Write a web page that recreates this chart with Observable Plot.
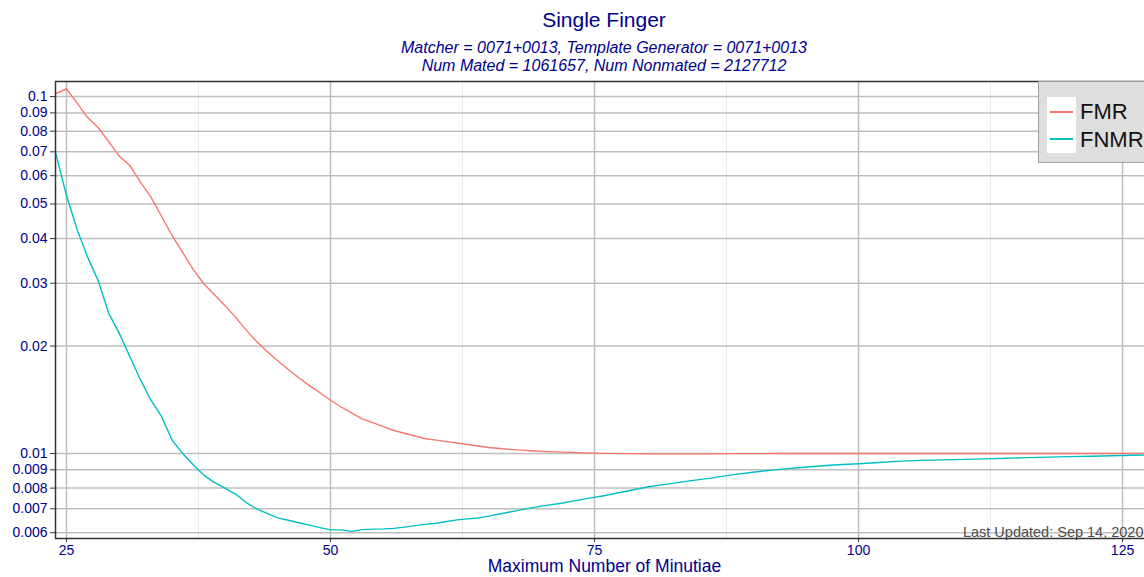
<!DOCTYPE html>
<html><head><meta charset="utf-8">
<script src="https://cdn.jsdelivr.net/npm/d3@7"></script>
<script src="https://cdn.jsdelivr.net/npm/@observablehq/plot@0.6"></script>
<style>
body{margin:0;background:#fff;}
#wrap{position:relative;width:1144px;height:577px;overflow:hidden;background:#fff;font-family:"Liberation Sans",Arial,sans-serif;}
#chart{position:absolute;left:0;top:0;}
.t{position:absolute;left:604px;transform:translateX(-50%);white-space:nowrap;color:#00008B;text-align:center;}
#title{top:9px;font-size:21px;line-height:21px;}
.sub{font-size:16px;line-height:18px;font-style:italic;}
#sub1{top:39px;}
#sub2{top:56.5px;}
#legend{position:absolute;left:1038px;top:81px;width:130px;height:82px;background:#dedede;border:1px solid #a0a0a0;box-sizing:border-box;}
#keybox{position:absolute;left:1047px;top:97px;width:29px;height:56px;background:#fff;}
.key{position:absolute;left:1050px;width:23px;height:1.5px;}
.lab{position:absolute;left:1080px;font-size:22px;line-height:22px;color:#111;white-space:nowrap;}
</style></head>
<body>
<div id="wrap">
  <div id="chart"></div>
  <div class="t" id="title">Single Finger</div>
  <div class="t sub" id="sub1">Matcher = 0071+0013, Template Generator = 0071+0013</div>
  <div class="t sub" id="sub2">Num Mated = 1061657, Num Nonmated = 2127712</div>
  <div id="legend"></div>
  <div id="keybox"></div>
  <div id="legendItems"></div>
</div>
<script>
// ---- data ----
const minutiae = [24,25,26,27,28,29,30,31,32,33,34,35,36,37,38,39,40,41,42,43,44,45,46,47,48,49,50,
  51,52,53,54,55,56,57,58,59,60,61,62,63,64,65,66,67,68,69,70,
  72,74,76,78,80,82,84,86,88,90,92,94,96,98,100,102,104,106,108,110,112,114,116,118,120,122,124,126,127];
const fmr = [0.102,0.105,0.096,0.0873,0.0819,0.0748,0.0681,0.0641,0.0576,0.0523,0.0462,0.0408,0.0366,0.0328,0.0299,0.0279,0.0260,0.0241,0.0222,0.0206,0.0193,0.0182,0.0172,0.0163,0.0155,0.0148,0.0141,
  0.0135,0.0130,0.0125,0.0122,0.0119,0.0116,0.0114,0.0112,0.0110,0.0109,0.0108,0.0107,0.0106,0.0105,0.0104,0.01033,0.01027,0.01022,0.01018,0.01014,
  0.01009,0.01004,0.01001,0.00999,0.00998,0.00998,0.00998,0.00998,0.00999,0.00999,0.01,0.01,0.01,0.01,0.01,0.01,0.01,0.01,0.01,0.01,0.01,0.01,0.01,0.01,0.01,0.01,0.01,0.01,0.01];
const fnmr = [0.0691,0.0528,0.0425,0.0355,0.0305,0.0247,0.0217,0.0187,0.0161,0.0141,0.0127,0.0109,0.0100,0.0093,0.0087,0.0083,0.0080,0.0077,0.0073,0.0070,0.0068,0.0066,0.0065,0.0064,0.0063,0.0062,0.00611,
  0.00611,0.00605,0.00612,0.00614,0.00615,0.00617,0.00622,0.00628,0.00633,0.00638,0.00645,0.00652,0.00656,0.0066,0.00668,0.00677,0.00686,0.00695,0.00704,0.00712,
  0.00727,0.00745,0.00763,0.00784,0.00806,0.00822,0.00838,0.00853,0.00871,0.00886,0.009,0.00911,0.00921,0.0093,0.00936,0.00944,0.00952,0.00957,0.0096,0.00963,0.00966,0.0097,0.00974,0.00977,0.0098,0.00983,0.00986,0.00989,0.0099];
const seriesNames = ["FMR","FNMR"];
const seriesColors = ["#F8766D","#00BFC4"];
const yTicks = [0.006,0.007,0.008,0.009,0.01,0.02,0.03,0.04,0.05,0.06,0.07,0.08,0.09,0.1];
const xTicks = [25,50,75,100,125];
const xMinor = [37.5,62.5,87.5,112.5];
const xDomain = [23.96,127.08];
const yDomain = [0.00578,0.1102];
const textBlue = "#00008B";

const rows = minutiae.flatMap((m,i)=>[{m, v:fmr[i], s:seriesNames[0]},{m, v:fnmr[i], s:seriesNames[1]}]);

const chart = Plot.plot({
  width:1144, height:577,
  marginTop:81, marginBottom:39, marginLeft:55, marginRight:0,
  x:{type:"linear", domain:xDomain},
  y:{type:"log", domain:yDomain},
  color:{domain:seriesNames, range:seriesColors},
  style:{fontFamily:'"Liberation Sans",Arial,sans-serif', background:"transparent", overflow:"visible"},
  marks:[
    Plot.ruleX(xMinor,{stroke:"#ebebeb", strokeWidth:1}),
    Plot.ruleX(xTicks,{stroke:"#bebebe", strokeWidth:1.5}),
    Plot.ruleY(yTicks,{stroke:"#bebebe", strokeWidth:1.5}),
    Plot.line(rows,{x:"m", y:"v", z:"s", stroke:"s", strokeWidth:1.4}),
    Plot.text(["Last Updated: Sep 14, 2020"],{text:d=>d, frameAnchor:"bottom-right", textAnchor:"end", lineAnchor:"bottom", dy:-2, dx:-1, fontSize:14.5, fill:"#4d4d4d"}),
    Plot.axisY(yTicks,{tickSize:5, tickPadding:3, fontSize:14, tickFormat:d=>String(d), label:null, stroke:"#333", fill:textBlue}),
    Plot.axisX(xTicks,{tickSize:4, tickPadding:3, fontSize:14, label:null, stroke:"#333", fill:textBlue}),
    Plot.ruleX([xDomain[0]],{stroke:"#333", strokeWidth:1.5}),
    Plot.ruleY([yDomain[0]],{stroke:"#333", strokeWidth:1.5}),
    Plot.ruleY([yDomain[1]],{stroke:"#333", strokeWidth:1.5}),
    Plot.text(["Maximum Number of Minutiae"],{text:d=>d, frameAnchor:"bottom", lineAnchor:"top", dx:4.5, dy:21.5, fontSize:17.5, fill:textBlue})
  ]
});
document.getElementById("chart").appendChild(chart);

// legend items built from the series arrays
const li = document.getElementById("legendItems");
const keyY = [112, 139];
const labTop = [101.4, 129.4];
seriesNames.forEach((name,i)=>{
  const k = document.createElement("div");
  k.className = "key"; k.style.top = (keyY[i]-0.75)+"px"; k.style.background = seriesColors[i];
  li.appendChild(k);
  const l = document.createElement("div");
  l.className = "lab"; l.style.top = labTop[i]+"px"; l.textContent = name;
  li.appendChild(l);
});
</script>
</body></html>
